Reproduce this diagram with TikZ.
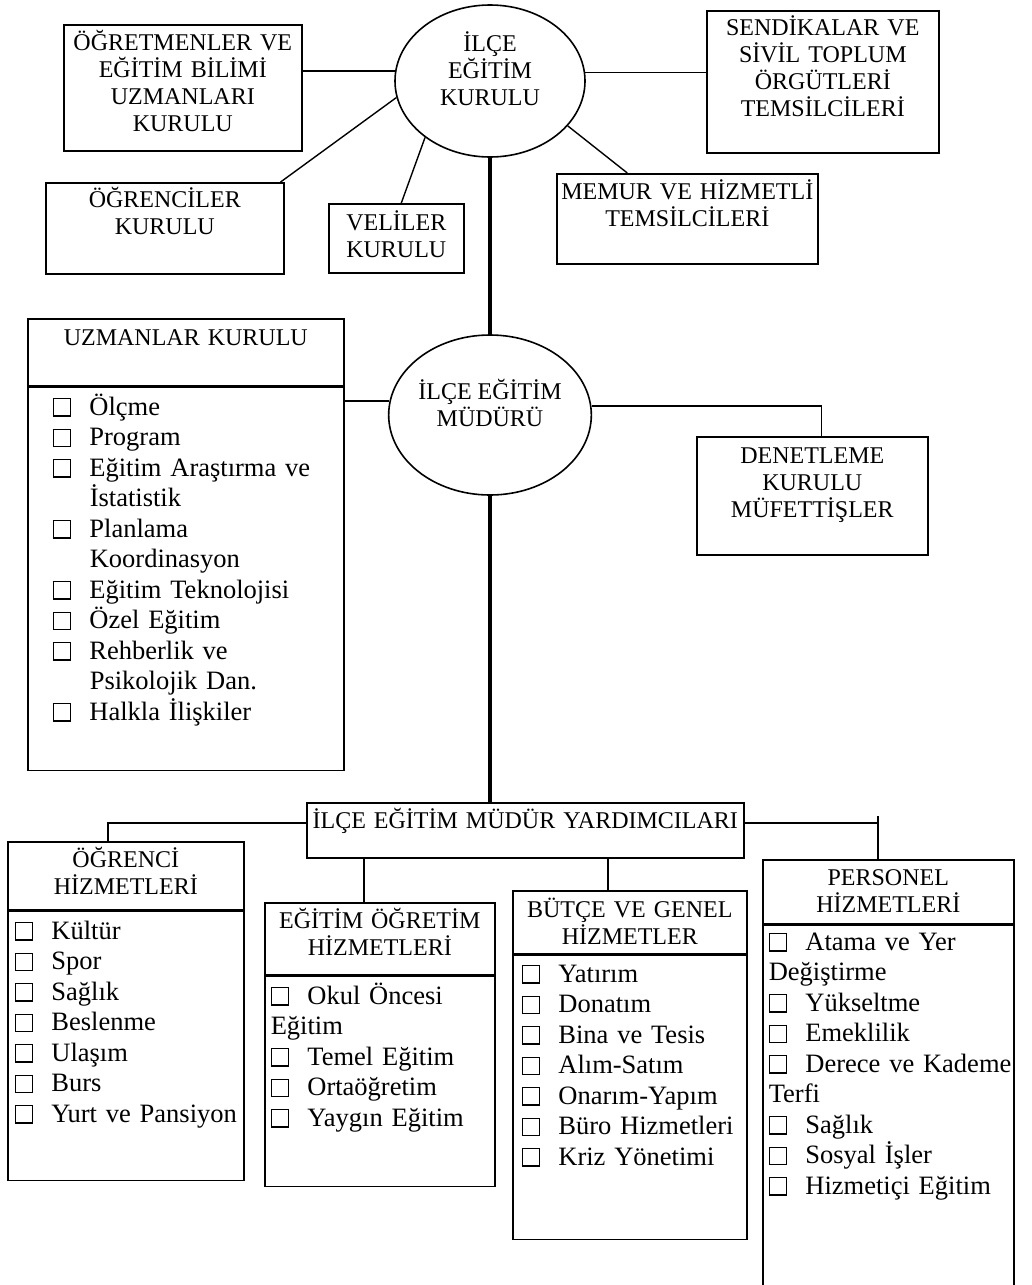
\documentclass[tikz,border=0pt]{standalone}
\usepackage{fontspec}
\setmainfont{Liberation Serif}
\usetikzlibrary{positioning,shapes.geometric}

\newcommand{\kare}{{\setlength{\fboxsep}{0pt}\setlength{\fboxrule}{1.3pt}\framebox{\rule{0pt}{16pt}\hspace{16pt}}}}
\newcommand{\madde}[1]{\mbox{\kare\hspace{18pt}#1}}
\newcommand{\devam}[1]{\mbox{\hspace*{37pt}#1}}

\tikzset{
  kutu/.style={draw, line width=1.6pt, inner sep=0pt, align=center, font=\fontsize{24}{27}\selectfont},
  govde/.style={kutu, align=left, font=\fontsize{26.5}{30.5}\selectfont, execute at begin node={\leftskip=#1}},
  kurul/.style={draw, ellipse, line width=1.6pt, inner sep=0pt, align=center, font=\fontsize{24}{27}\selectfont},
  baglanti/.style={line width=1.4pt},
  ana/.style={line width=3.5pt}
}

\begin{document}
\begin{tikzpicture}[x=1pt, y=-1pt]
        \useasboundingbox (0,0) rectangle (1031,1285);
        % Ilce egitim kurulu
        \node[kurul, minimum width=190pt, minimum height=152pt, text height=70pt, text depth=22pt] (kurul) at (490,81) {İLÇE\\EĞİTİM\\KURULU};
        \node[kutu, text width=238pt, text height=26pt, text depth=100pt, anchor=north west] (ogretmen) at (63,24) {ÖĞRETMENLER VE\\EĞİTİM BİLİMİ\\UZMANLARI\\KURULU};
        \node[kutu, text width=238pt, text height=25pt, text depth=66pt, anchor=north west] (ogrenciler) at (45,182) {ÖĞRENCİLER\\KURULU};
        \node[kutu, text width=135pt, text height=27pt, text depth=42pt, anchor=north west] (veliler) at (328,203) {VELİLER\\KURULU};
        \node[kutu, text width=232pt, text height=25pt, text depth=117pt, anchor=north west] (sendika) at (706,10) {SENDİKALAR VE\\SİVİL TOPLUM\\ÖRGÜTLERİ\\TEMSİLCİLERİ};
        \node[kutu, text width=261pt, text height=26pt, text depth=64pt, anchor=north west] (memur) at (556,173) {MEMUR VE HİZMETLİ\\TEMSİLCİLERİ};
        % Baglantilar
        \draw[baglanti] (kurul.174) -- (kurul.174 -| ogretmen.east);
        \draw[baglanti] (kurul.5) -- (kurul.5 -| sendika.west);
        \draw[baglanti] ([xshift=-4pt]ogrenciler.north east) -- (kurul.190);
        \draw[baglanti] ([xshift=5pt]veliler.north) -- (kurul.221);
        \draw[baglanti] ([xshift=-60pt]memur.north) -- (kurul.330);
        % Ilce egitim muduru
        \node[kurul, minimum width=196pt, minimum height=160pt, text height=45pt, text depth=23pt] (mudur) at (490,415) {İLÇE EĞİTİM\\MÜDÜRÜ};
        \draw[ana] (kurul.south) -- (mudur.north);
        % Uzmanlar kurulu
        \node[kutu, text width=316pt, text height=27pt, text depth=40pt, anchor=north west] (uzmbas) at (27,318) {UZMANLAR KURULU};
        \node[govde=25pt, text width=316pt, text height=28pt, text depth=355pt, below=0pt of uzmbas] (uzmgovde) {\madde{Ölçme}\\
          \madde{Program}\\
          \madde{Eğitim Araştırma ve}\\
          \devam{İstatistik}\\
          \madde{Planlama}\\
          \devam{Koordinasyon}\\
          \madde{Eğitim Teknolojisi}\\
          \madde{Özel Eğitim}\\
          \madde{Rehberlik ve}\\
          \devam{Psikolojik Dan.}\\
          \madde{Halkla İlişkiler}};
        \draw[baglanti] (mudur.172) -- (mudur.172 -| uzmgovde.east);
        % Denetleme
        \node[kutu, text width=231pt, text height=27pt, text depth=91pt, anchor=north west] (denetleme) at (696,436) {DENETLEME\\KURULU\\MÜFETTİŞLER};
        \draw[baglanti] (mudur.5) -| ([xshift=9pt]denetleme.north);
        % Mudur yardimcilari
        \node[kutu, text width=437pt, text height=26pt, text depth=29pt, anchor=north west] (yard) at (306,802) {İLÇE EĞİTİM MÜDÜR YARDIMCILARI};
        \draw[ana] (mudur.south) -- (mudur.south |- yard.north);
        % Hizmet birimleri
        \node[kutu, text width=236pt, text height=26pt, text depth=42pt, anchor=north west] (ogrbas) at (7,841) {ÖĞRENCİ\\HİZMETLERİ};
        \node[govde=7pt, text width=236pt, text height=28pt, text depth=241pt, below=0pt of ogrbas] (ogrgovde) {\madde{Kültür}\\
          \madde{Spor}\\
          \madde{Sağlık}\\
          \madde{Beslenme}\\
          \madde{Ulaşım}\\
          \madde{Burs}\\
          \madde{Yurt ve Pansiyon}};
        \node[kutu, text width=230pt, text height=26pt, text depth=46pt, anchor=north west] (egtbas) at (264,902) {EĞİTİM ÖĞRETİM\\HİZMETLERİ};
        \node[govde=6pt, text width=230pt, text height=28pt, text depth=182pt, below=0pt of egtbas] (egtgovde) {\madde{Okul Öncesi}\\
          Eğitim\\
          \madde{Temel Eğitim}\\
          \madde{Ortaöğretim}\\
          \madde{Yaygın Eğitim}};
        \node[kutu, text width=234pt, text height=27pt, text depth=36pt, anchor=north west] (butbas) at (512,890) {BÜTÇE VE GENEL\\HİZMETLER};
        \node[govde=9pt, text width=234pt, text height=27pt, text depth=257pt, below=0pt of butbas] (butgovde) {\madde{Yatırım}\\
          \madde{Donatım}\\
          \madde{Bina ve Tesis}\\
          \madde{Alım-Satım}\\
          \madde{Onarım-Yapım}\\
          \madde{Büro Hizmetleri}\\
          \madde{Kriz Yönetimi}};
        \node[kutu, text width=251pt, text height=26pt, text depth=38pt, anchor=north west] (perbas) at (762,859) {PERSONEL\\HİZMETLERİ};
        \node[govde=6pt, text width=251pt, text height=25pt, text depth=342pt, below=0pt of perbas] (pergovde) {\madde{Atama ve Yer}\\
          Değiştirme\\
          \madde{Yükseltme}\\
          \madde{Emeklilik}\\
          \madde{Derece ve Kademe}\\
          Terfi\\
          \madde{Sağlık}\\
          \madde{Sosyal İşler}\\
          \madde{Hizmetiçi Eğitim}};
        % Yardimci baglantilari
        \coordinate (perkose) at ([xshift=-10.5pt]perbas.north);
        \draw[baglanti] ([yshift=7.5pt]yard.west) -| ([xshift=-18pt]ogrbas.north);
        \draw[baglanti] ([xshift=-16pt]egtbas.north) -- ([xshift=-16pt]egtbas.north |- yard.south);
        \draw[baglanti] ([xshift=-22pt]butbas.north) -- ([xshift=-22pt]butbas.north |- yard.south);
        \draw[baglanti] ([yshift=7.5pt]yard.east) -- ([yshift=7.5pt]yard.east -| perkose);
        \draw[baglanti] (perkose) -- ++(0,-43);
    \end{tikzpicture}
\end{document}
